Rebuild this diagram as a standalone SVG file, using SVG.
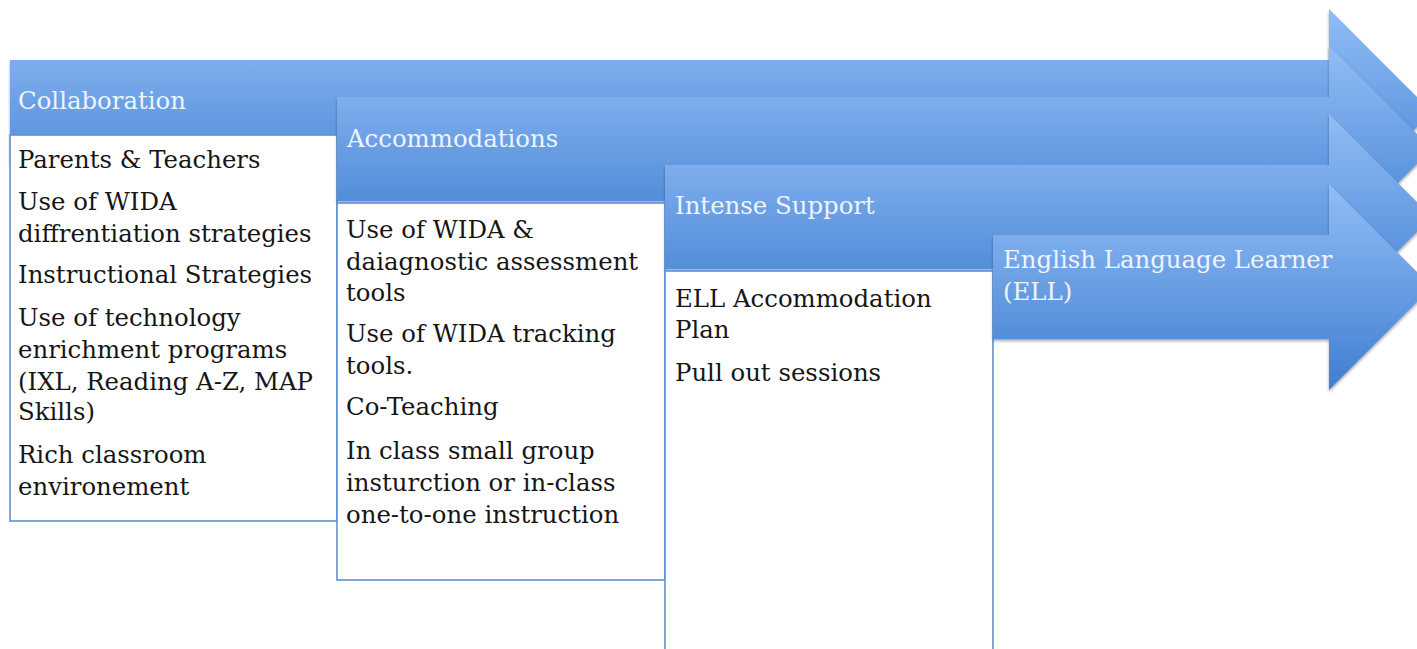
<svg xmlns="http://www.w3.org/2000/svg" width="1417" height="649" viewBox="0 0 1417 649">
<defs>
<linearGradient id="g" x1="0" y1="0" x2="0" y2="1">
<stop offset="0" stop-color="#92bdf7"/>
<stop offset="1" stop-color="#3f7ecf"/>
</linearGradient>
<filter id="sh" x="-5%" y="-10%" width="110%" height="125%">
<feDropShadow dx="0" dy="2" stdDeviation="1.5" flood-color="#000" flood-opacity="0.35"/>
</filter>
</defs>
<style>
.arr{fill:url(#g);filter:url(#sh)}
.box{fill:#fff;stroke:#5f8fd2;stroke-width:1.6}
.hd{font-family:"DejaVu Serif","Liberation Serif",serif;font-size:24.4px;fill:#eef4fd}
.tx{font-family:"DejaVu Serif","Liberation Serif",serif;font-size:24.4px;fill:#161616}
</style>
<rect width="1417" height="649" fill="#fff"/>
<g id="collaboration">
<path class="arr" d="M10,60 H1329 V9 L1432,112 L1329,215 V164 H10 Z"/>
<text class="hd" x="18" y="109">Collaboration</text>
<rect class="box" x="10" y="135" width="327" height="386"/>
<g class="tx">
<text x="18" y="168">Parents &amp; Teachers</text>
<text x="18" y="210">Use of WIDA</text>
<text x="18" y="242">diffrentiation strategies</text>
<text x="18" y="283">Instructional Strategies</text>
<text x="18" y="326">Use of technology</text>
<text x="18" y="358">enrichment programs</text>
<text x="18" y="390">(IXL, Reading A-Z, MAP</text>
<text x="18" y="420">Skills)</text>
<text x="18" y="463">Rich classroom</text>
<text x="18" y="495">environement</text>
</g>
</g>
<g id="accommodations">
<path class="arr" d="M337,97 H1329 V46 L1432,149 L1329,252 V201 H337 Z"/>
<text class="hd" x="347" y="147">Accommodations</text>
<rect class="box" x="337" y="203" width="328" height="377"/>
<g class="tx">
<text x="346" y="238">Use of WIDA &amp;</text>
<text x="346" y="270">daiagnostic assessment</text>
<text x="346" y="301">tools</text>
<text x="346" y="342">Use of WIDA tracking</text>
<text x="346" y="374">tools.</text>
<text x="346" y="415">Co-Teaching</text>
<text x="346" y="459">In class small group</text>
<text x="346" y="491">insturction or in-class</text>
<text x="346" y="523">one-to-one instruction</text>
</g>
</g>
<g id="intense-support">
<path class="arr" d="M665,165 H1329 V114 L1432,217 L1329,320 V269 H665 Z"/>
<text class="hd" x="675" y="214">Intense Support</text>
<rect class="box" x="665" y="271" width="328" height="400"/>
<g class="tx">
<text x="675" y="307">ELL Accommodation</text>
<text x="675" y="338">Plan</text>
<text x="675" y="381">Pull out sessions</text>
</g>
</g>
<g id="ell">
<path class="arr" d="M993,235 H1329 V184 L1432,287 L1329,390 V339 H993 Z"/>
<text class="hd" x="1003" y="268">English Language Learner</text>
<text class="hd" x="1003" y="300">(ELL)</text>
</g>
<g id="connectors"/>
</svg>
